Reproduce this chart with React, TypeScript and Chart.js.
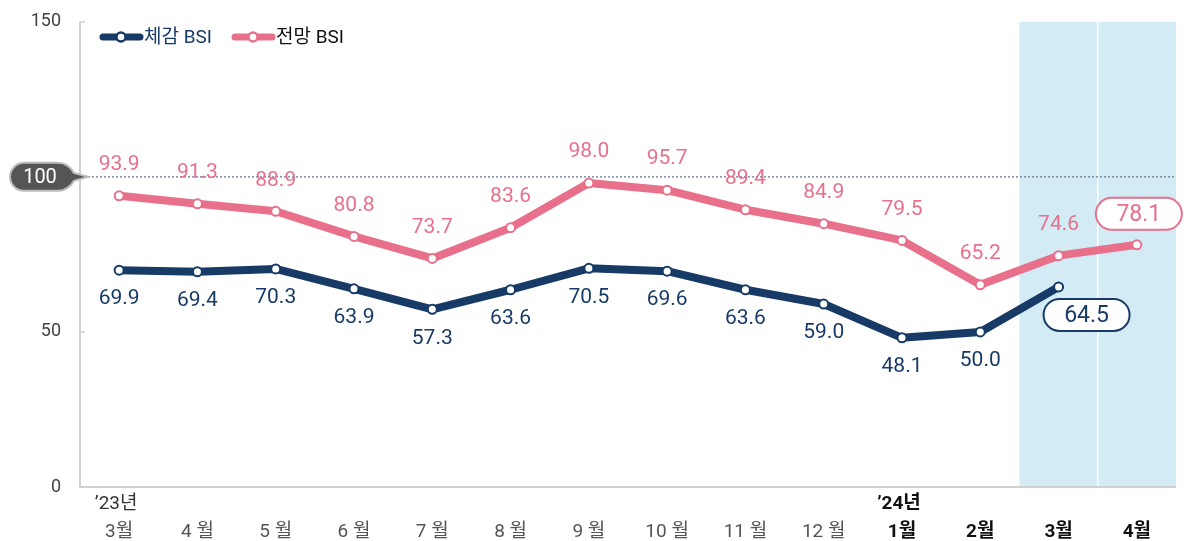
import React, { useEffect, useRef } from "react";
import { Chart, registerables } from "chart.js";

Chart.register(...registerables);

const months = ["3월", "4 월", "5 월", "6 월", "7 월", "8 월", "9 월", "10 월", "11 월", "12 월", "1월", "2월", "3월", "4월"];
const yearLabels = ["’23년", "", "", "", "", "", "", "", "", "", "’24년", "", "", ""];
const boldFrom = 10;
const actualBSI = [69.9, 69.4, 70.3, 63.9, 57.3, 63.6, 70.5, 69.6, 63.6, 59.0, 48.1, 50.0, 64.5, null];
const outlookBSI = [93.9, 91.3, 88.9, 80.8, 73.7, 83.6, 98.0, 95.7, 89.4, 84.9, 79.5, 65.2, 74.6, 78.1];
const yTicks = [0, 50, 100, 150];
const refValue = 100;
const shadeFromIndex = 12;

const NAVY = "#173b66";
const PINK = "#e8708b";
const FONT = "Roboto, 'Noto Sans CJK KR', sans-serif";

function roundRect(ctx: CanvasRenderingContext2D, x: number, y: number, w: number, h: number, r: number) {
  ctx.beginPath();
  ctx.moveTo(x + r, y);
  ctx.lineTo(x + w - r, y);
  ctx.arc(x + w - r, y + r, r, -Math.PI / 2, 0);
  ctx.lineTo(x + w, y + h - r);
  ctx.arc(x + w - r, y + h - r, r, 0, Math.PI / 2);
  ctx.lineTo(x + r, y + h);
  ctx.arc(x + r, y + h - r, r, Math.PI / 2, Math.PI);
  ctx.lineTo(x, y + r);
  ctx.arc(x + r, y + r, r, Math.PI, Math.PI * 1.5);
  ctx.closePath();
}

const bgPlugin = {
  id: "bgPlugin",
  beforeDatasetsDraw(chart: any) {
    const { ctx, chartArea, scales } = chart;
    const x = scales.x;
    const y = scales.y;
    const left = (x.getPixelForValue(shadeFromIndex - 1) + x.getPixelForValue(shadeFromIndex)) / 2;
    ctx.save();
    ctx.fillStyle = "#d3ebf5";
    ctx.fillRect(left, chartArea.top, chartArea.right - left, chartArea.bottom - chartArea.top);
    const div = (x.getPixelForValue(12) + x.getPixelForValue(13)) / 2;
    ctx.strokeStyle = "#ffffff";
    ctx.lineWidth = 1.5;
    ctx.beginPath();
    ctx.moveTo(div, chartArea.top);
    ctx.lineTo(div, chartArea.bottom);
    ctx.stroke();
    const ry = y.getPixelForValue(refValue);
    ctx.strokeStyle = "#7c8aa6";
    ctx.lineWidth = 1.5;
    ctx.setLineDash([2, 2]);
    ctx.beginPath();
    ctx.moveTo(chartArea.left, ry);
    ctx.lineTo(chartArea.right, ry);
    ctx.stroke();
    ctx.setLineDash([]);
    ctx.strokeStyle = "#d0d0d0";
    ctx.lineWidth = 2;
    ctx.beginPath();
    ctx.moveTo(chartArea.left, chartArea.top);
    ctx.lineTo(chartArea.left, chartArea.bottom);
    ctx.lineTo(chartArea.right, chartArea.bottom);
    ctx.stroke();
    ctx.lineWidth = 1.5;
    for (const t of [50, 150]) {
      const ty = y.getPixelForValue(t);
      ctx.beginPath();
      ctx.moveTo(chartArea.left, ty);
      ctx.lineTo(chartArea.left + 5, ty);
      ctx.stroke();
    }
    ctx.restore();
  },
  afterDraw(chart: any) {
    const { ctx, chartArea, scales } = chart;
    const x = scales.x;
    const y = scales.y;
    ctx.save();
    const ry = y.getPixelForValue(refValue);
    ctx.beginPath();
    const bx = 10, bw = 62, bh = 28, r = 14;
    const by = ry - bh / 2;
    ctx.moveTo(bx + r, by);
    ctx.lineTo(bx + bw - r, by);
    ctx.quadraticCurveTo(bx + bw - 4, by, bx + bw + 2, ry - 4);
    ctx.lineTo(chartArea.left + 8, ry);
    ctx.lineTo(bx + bw + 2, ry + 4);
    ctx.quadraticCurveTo(bx + bw - 4, by + bh, bx + bw - r, by + bh);
    ctx.lineTo(bx + r, by + bh);
    ctx.arc(bx + r, ry, r, Math.PI / 2, Math.PI * 1.5);
    ctx.closePath();
    ctx.fillStyle = "#555555";
    ctx.fill();
    ctx.strokeStyle = "#bdbdbd";
    ctx.lineWidth = 2;
    ctx.stroke();
    ctx.fillStyle = "#ffffff";
    ctx.font = `20px ${FONT}`;
    ctx.textAlign = "center";
    ctx.textBaseline = "middle";
    ctx.fillText(String(refValue), bx + bw / 2 - 1, ry + 1);

    ctx.font = `21px ${FONT}`;
    const lastA = actualBSI.length - 2;
    const lastO = outlookBSI.length - 1;
    outlookBSI.forEach((v, i) => {
      if (v == null || i === lastO) return;
      ctx.fillStyle = PINK;
      ctx.fillText(v.toFixed(1), x.getPixelForValue(i), y.getPixelForValue(v) - 31);
    });
    actualBSI.forEach((v, i) => {
      if (v == null || i === lastA) return;
      ctx.fillStyle = NAVY;
      ctx.fillText(v.toFixed(1), x.getPixelForValue(i), y.getPixelForValue(v) + 29);
    });
    const boxed = (text: string, cx: number, cy: number, color: string) => {
      ctx.font = `23px ${FONT}`;
      roundRect(ctx, cx - 43, cy - 16, 86, 32, 16);
      ctx.fillStyle = "#ffffff";
      ctx.fill();
      ctx.strokeStyle = color;
      ctx.lineWidth = 2;
      ctx.stroke();
      ctx.fillStyle = color;
      ctx.fillText(text, cx, cy + 1);
    };
    const vo = outlookBSI[lastO] as number;
    boxed(vo.toFixed(1), x.getPixelForValue(lastO) + 2, y.getPixelForValue(vo) - 31, PINK);
    const va = actualBSI[lastA] as number;
    boxed(va.toFixed(1), x.getPixelForValue(lastA) + 28, y.getPixelForValue(va) + 28, NAVY);

    months.forEach((m, i) => {
      const px = x.getPixelForValue(i);
      const bold = i >= boldFrom;
      ctx.font = `${bold ? "bold " : ""}19px ${FONT}`;
      ctx.fillStyle = bold ? "#111111" : "#555555";
      ctx.fillText(m, px, chartArea.bottom + 45);
      if (yearLabels[i]) {
        ctx.fillStyle = bold ? "#111111" : "#333333";
        ctx.fillText(yearLabels[i], px - 3, chartArea.bottom + 17);
      }
    });

    const legend = [
      { label: "체감 BSI", color: NAVY, text: NAVY, x0: 100 },
      { label: "전망 BSI", color: PINK, text: "#111111", x0: 232 },
    ];
    const ly = 37;
    legend.forEach((l) => {
      ctx.strokeStyle = l.color;
      ctx.lineWidth = 7;
      ctx.lineCap = "round";
      ctx.beginPath();
      ctx.moveTo(l.x0 + 3, ly);
      ctx.lineTo(l.x0 + 40, ly);
      ctx.stroke();
      ctx.beginPath();
      ctx.arc(l.x0 + 21, ly, 4.5, 0, Math.PI * 2);
      ctx.fillStyle = "#ffffff";
      ctx.fill();
      ctx.lineWidth = 2.5;
      ctx.stroke();
      ctx.font = `19px ${FONT}`;
      ctx.fillStyle = l.text;
      ctx.textAlign = "left";
      ctx.fillText(l.label, l.x0 + 44, ly + 1);
      ctx.textAlign = "center";
    });
    ctx.restore();
  },
};

export default function App() {
  const ref = useRef<HTMLCanvasElement | null>(null);
  useEffect(() => {
    document.body.style.margin = "0";
    const chart = new Chart(ref.current as HTMLCanvasElement, {
      type: "line",
      data: {
        labels: months,
        datasets: [
          {
            label: "전망 BSI",
            data: outlookBSI,
            borderColor: PINK,
            borderWidth: 8,
            pointBackgroundColor: "#ffffff",
            pointBorderColor: PINK,
            pointBorderWidth: 2,
            pointRadius: 4.5,
            tension: 0,
            borderJoinStyle: "round",
            borderCapStyle: "round",
          },
          {
            label: "체감 BSI",
            data: actualBSI,
            borderColor: NAVY,
            borderWidth: 8,
            pointBackgroundColor: "#ffffff",
            pointBorderColor: NAVY,
            pointBorderWidth: 2,
            pointRadius: 4.5,
            tension: 0,
            borderJoinStyle: "round",
            borderCapStyle: "round",
          },
        ],
      },
      options: {
        responsive: false,
        animation: false,
        layout: { padding: { top: 12, right: 16, bottom: 0, left: 0 } },
        plugins: { legend: { display: false }, tooltip: { enabled: false } },
        scales: {
          x: {
            offset: true,
            grid: { display: false },
            border: { display: false },
            ticks: { display: false },
            afterFit: (s: any) => {
              s.height = 54;
            },
          },
          y: {
            min: 0,
            max: 150,
            afterBuildTicks: (s: any) => {
              s.ticks = yTicks.map((v) => ({ value: v }));
            },
            grid: { display: false },
            border: { display: false },
            ticks: { color: "#444444", font: { family: FONT, size: 18 }, padding: 11 },
            afterFit: (s: any) => {
              s.width = 80;
            },
          },
        },
      },
      plugins: [bgPlugin],
    });
    return () => chart.destroy();
  }, []);
  return <canvas ref={ref} width={1192} height={541} style={{ display: "block" }} />;
}
